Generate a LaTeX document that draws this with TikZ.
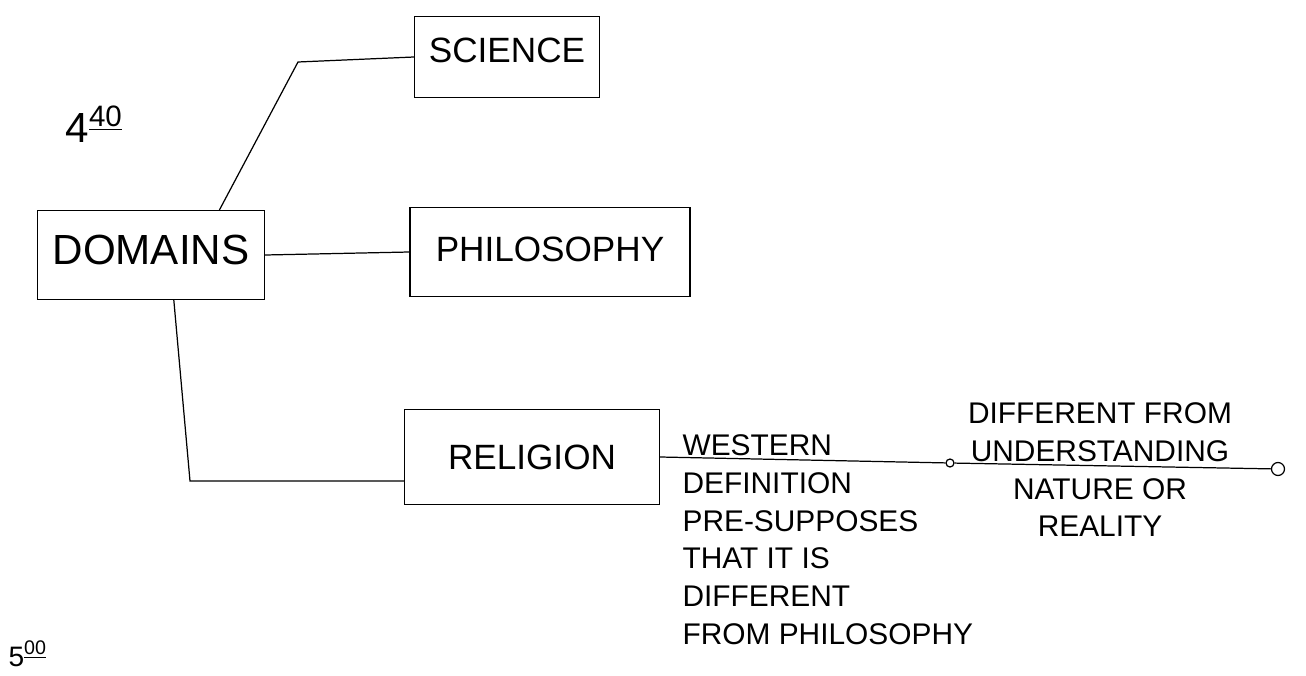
\documentclass[tikz,border=0pt]{standalone}
\usepackage{fontspec}
\setmainfont{Liberation Sans}
\usepackage{tikz}
\usetikzlibrary{calc}

\begin{document}
\begin{tikzpicture}[x=0.02cm, y=-0.02cm, line width=0.7pt,
        domainbox/.style={draw, rectangle, inner sep=0pt, text depth=0.7cm, font=\fontsize{20}{24}\selectfont},
        jot/.style={inner sep=0pt, font=\fontsize{17}{21.5}\selectfont},
        knot/.style={circle, draw, inner sep=0pt}]
          \useasboundingbox (0,0) rectangle (1306,676);

          \node[domainbox, minimum width=4.54cm, text height=1.08cm, font=\fontsize{24}{28}\selectfont] (D) at (151,255) {DOMAINS};
          \node[domainbox, minimum width=3.7cm, text height=0.92cm] (S) at (507,57) {SCIENCE};
          \node[domainbox, minimum width=5.6cm, text height=1.08cm] (P) at (550,252) {PHILOSOPHY};
          \node[domainbox, minimum width=5.1cm, text height=1.2cm] (R) at (532,457) {RELIGION};

          \node[knot, minimum size=0.16cm] (k1) at (950,463) {};
          \node[knot, minimum size=0.26cm] (k2) at (1278,469) {};

          \node[jot, anchor=north west, align=left] (west) at (682,434) {WESTERN\\DEFINITION\\PRE-SUPPOSES\\THAT IT IS\\DIFFERENT\\FROM PHILOSOPHY};
          \node[jot, anchor=north, align=center] (under) at (1100,402) {DIFFERENT FROM\\UNDERSTANDING\\NATURE OR\\REALITY};

          \node[inner sep=0pt, anchor=base west, font=\fontsize{24}{28}\selectfont] (t440) at (65,142) {4\textsuperscript{\underline{40}}};
          \node[inner sep=0pt, anchor=base west, font=\fontsize{16}{20}\selectfont] (t500) at (8,666) {5\textsuperscript{\underline{00}}};

          \coordinate (bend) at (298,62);
          \coordinate (corner) at (190,481);

          \draw ($(D.north west)!0.8!(D.north east)$) -- (bend) -- (S.west);
          \draw (D.east) -- (P.west);
          \draw ($(D.south west)!0.6!(D.south east)$) -- (corner) -- (corner -| R.west);
          \draw (R.east) -- (k1);
          \draw (k1) -- (k2);
        \end{tikzpicture}
\end{document}
